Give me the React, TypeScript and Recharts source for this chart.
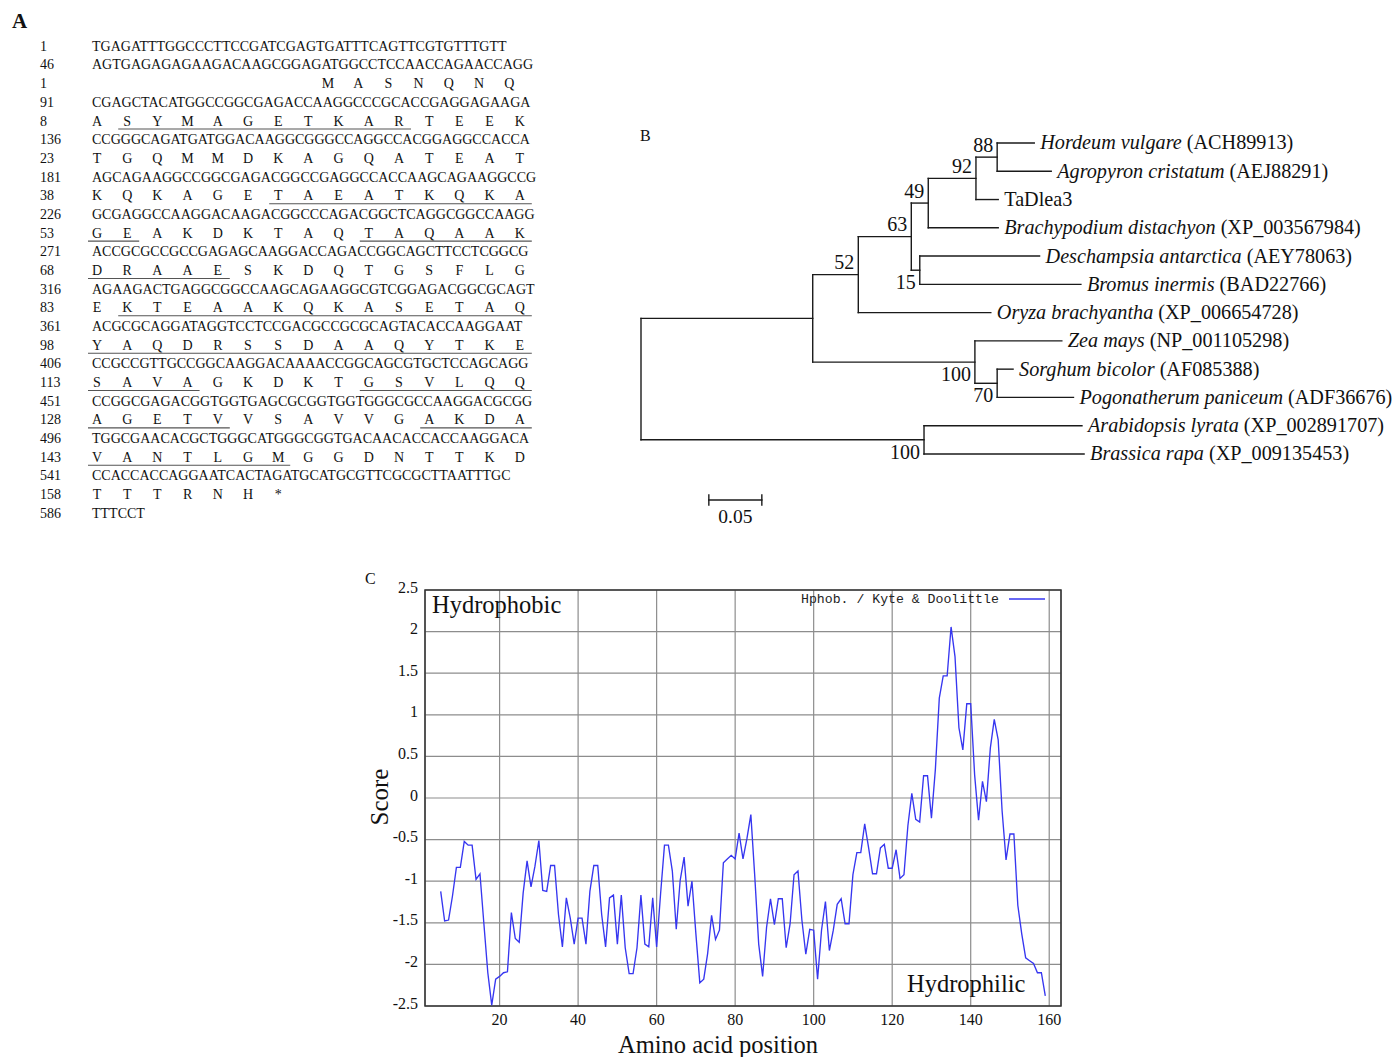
import React from "react";
import {
  CartesianGrid,
  Line,
  LineChart,
  ReferenceArea,
  ReferenceLine,
  Scatter,
  ScatterChart,
  XAxis,
  YAxis,
} from "recharts";

const SERIF = '"Liberation Serif", "Times New Roman", serif';
const MONO = '"Liberation Mono", "DejaVu Sans Mono", monospace';

// ---- panel A: cDNA and deduced protein ----
const dnaStarts = [1, 46, 91, 136, 181, 226, 271, 316, 361, 406, 451, 496, 541, 586];
const dnaLines = [
  "TGAGATTTGGCCCTTCCGATCGAGTGATTTCAGTTCGTGTTTGTT",
  "AGTGAGAGAGAAGACAAGCGGAGATGGCCTCCAACCAGAACCAGG",
  "CGAGCTACATGGCCGGCGAGACCAAGGCCCGCACCGAGGAGAAGA",
  "CCGGGCAGATGATGGACAAGGCGGGCCAGGCCACGGAGGCCACCA",
  "AGCAGAAGGCCGGCGAGACGGCCGAGGCCACCAAGCAGAAGGCCG",
  "GCGAGGCCAAGGACAAGACGGCCCAGACGGCTCAGGCGGCCAAGG",
  "ACCGCGCCGCCGAGAGCAAGGACCAGACCGGCAGCTTCCTCGGCG",
  "AGAAGACTGAGGCGGCCAAGCAGAAGGCGTCGGAGACGGCGCAGT",
  "ACGCGCAGGATAGGTCCTCCGACGCCGCGCAGTACACCAAGGAAT",
  "CCGCCGTTGCCGGCAAGGACAAAACCGGCAGCGTGCTCCAGCAGG",
  "CCGGCGAGACGGTGGTGAGCGCGGTGGTGGGCGCCAAGGACGCGG",
  "TGGCGAACACGCTGGGCATGGGCGGTGACAACACCACCAAGGACA",
  "CCACCACCAGGAATCACTAGATGCATGCGTTCGCGCTTAATTTGC",
  "TTTCCT",
];
const aaStarts = [1, 8, 23, 38, 53, 68, 83, 98, 113, 128, 143, 158];
const aaLines = [
  "MASNQNQ",
  "ASYMAGETKARTEEK",
  "TGQMMDKAGQATEAT",
  "KQKAGETAEATKQKA",
  "GEAKDKTAQTAQAAK",
  "DRAAESKDQTGSFLG",
  "EKTEAAKQKASETAQ",
  "YAQDRSSDAAQYTKE",
  "SAVAGKDKTGSVLQQ",
  "AGETVVSAVVGAKDA",
  "VANTLGMGGDNTTKD",
  "TTTRNH*",
];
// underlined stretches: [protein line, first letter, last letter]
const motifRuns = [
  [1, 1, 10], [3, 6, 14], [4, 0, 1], [4, 9, 14], [5, 0, 4], [6, 1, 14],
  [7, 0, 14], [8, 0, 3], [8, 9, 14], [9, 0, 4], [9, 11, 14], [10, 0, 6],
];

// ---- panel B: neighbour-joining tree ----
const taxa = [
  "Hordeum vulgare", "Agropyron cristatum", "TaDlea3", "Brachypodium distachyon",
  "Deschampsia antarctica", "Bromus inermis", "Oryza brachyantha", "Zea mays",
  "Sorghum bicolor", "Pogonatherum paniceum", "Arabidopsis lyrata", "Brassica rapa",
];
const accessions = [
  "ACH89913", "AEJ88291", "", "XP_003567984", "AEY78063", "BAD22766",
  "XP_006654728", "NP_001105298", "AF085388", "ADF36676", "XP_002891707", "XP_009135453",
];
const leafDepth = [0.371, 0.387, 0.337, 0.337, 0.376, 0.415, 0.330, 0.397, 0.351, 0.408, 0.416, 0.418];
const leafParent = ["n88", "n88", "n92", "n49", "n15", "n15", "n52", "nZm", "n70", "n70", "nBr", "nBr"];
const cladeIds = ["n88", "n92", "n49", "n15", "n63", "n52", "n70", "nZm", "nGr", "nBr", "root"];
const cladeDepth = [0.336, 0.316, 0.271, 0.263, 0.255, 0.205, 0.336, 0.315, 0.162, 0.267, 0];
const cladeRow = [0.5, 1.25, 2.125, 4.5, 3.3125, 4.656, 8.5, 7.75, 6.203, 10.5, 8.352];
const cladeParent = ["n92", "n49", "n63", "n63", "n52", "nGr", "nZm", "nGr", "root", "root", ""];
const bootstrap = ["88", "92", "49", "15", "63", "52", "70", "100", "", "100", ""];
const bootstrapBelow = [false, false, false, true, false, false, true, true, false, true, false];
const scaleBar = [0.064, 0.114];
const scaleRow = 12.63;

// ---- panel C: Kyte & Doolittle hydropathy (window 9) ----
const kdFirstPos = 5;
const kdScores = [
  -1.122, -1.478, -1.467, -1.178, -0.833, -0.833, -0.522, -0.567, -0.567, -0.978,
  -0.911, -1.511, -2.1, -2.489, -2.178, -2.144, -2.1, -2.089, -1.378, -1.689,
  -1.733, -1.144, -0.756, -1.067, -0.822, -0.511, -1.111, -1.122, -0.811, -0.811,
  -1.4, -1.789, -1.2, -1.444, -1.756, -1.444, -1.444, -1.756, -1.122, -0.811,
  -0.811, -1.4, -1.789, -1.2, -1.167, -1.756, -1.167, -1.8, -2.111, -2.111,
  -1.8, -1.167, -1.756, -1.789, -1.2, -1.789, -1.156, -0.567, -0.567, -0.878,
  -1.578, -0.989, -0.711, -1.3, -1.0, -1.633, -2.222, -2.178, -1.867, -1.411,
  -1.7, -1.589, -0.778, -0.733, -0.689, -0.733, -0.422, -0.733, -0.489, -0.2,
  -0.944, -1.756, -2.144, -1.556, -1.211, -1.522, -1.211, -1.211, -1.8, -1.511,
  -0.922, -0.878, -1.467, -1.878, -1.578, -1.589, -2.178, -1.589, -1.244, -1.833,
  -1.589, -1.278, -1.211, -1.511, -1.511, -0.922, -0.656, -0.656, -0.311, -0.6,
  -0.911, -0.911, -0.6, -0.556, -0.844, -0.844, -0.622, -0.967, -0.922, -0.333,
  0.056, -0.256, -0.289, 0.267, 0.267, -0.244, 0.344, 1.2, 1.467, 1.467,
  2.056, 1.7, 0.844, 0.578, 1.133, 1.133, 0.278, -0.267, 0.2, -0.044,
  0.6, 0.944, 0.7, -0.156, -0.744, -0.433, -0.433, -1.289, -1.633, -1.922,
  -1.956, -1.989, -2.1, -2.1, -2.378,
];
const posTicks = [20, 40, 60, 80, 100, 120, 140, 160];
const scoreTicks = [-2.5, -2, -1.5, -1, -0.5, 0, 0.5, 1, 1.5, 2, 2.5];

const hydroData = kdScores.map((score, i) => ({ pos: kdFirstPos + i, score }));

function rowY(r: number) {
  return 46 + 18.68 * r + 4.8;
}
function slotX(i: number) {
  return 97 + 30.2 * i;
}

function SequencePanel() {
  return (
    <svg width={560} height={540} style={{ position: "absolute", left: 0, top: 0 }}>
      <text x={12} y={28} fontFamily={SERIF} fontSize={21} fontWeight="bold" fill="#111">A</text>
      {dnaLines.map((seq, j) => {
        const row = j < 2 ? j : 2 * j - 1;
        return (
          <g key={"d" + j} fontFamily={SERIF} fontSize={14} fill="#111">
            <text x={40} y={rowY(row)}>{dnaStarts[j]}</text>
            <text x={92} y={rowY(row)}>{seq}</text>
          </g>
        );
      })}
      {aaLines.map((seq, k) => {
        const row = 2 + 2 * k;
        const off = k === 0 ? 7.65 : 0;
        return (
          <g key={"p" + k} fontFamily={SERIF} fontSize={14} fill="#111">
            <text x={40} y={rowY(row)}>{aaStarts[k]}</text>
            {seq.split("").map((c, i) => (
              <text key={i} x={slotX(i + off)} y={rowY(row)} textAnchor="middle">{c}</text>
            ))}
          </g>
        );
      })}
      {motifRuns.map(([k, a, b], i) => {
        const y = rowY(2 + 2 * k) + 3.5;
        return <line key={"u" + i} x1={slotX(a) - 9} x2={slotX(b) + 12} y1={y} y2={y} stroke="#555" strokeWidth={1.1} />;
      })}
    </svg>
  );
}

function LeafLabel(p: any) {
  const d = p.payload;
  return (
    <text x={p.cx + 6} y={p.cy + 6.5} fontFamily={SERIF} fontSize={20.2} fill="#111">
      {d.acc ? <tspan fontStyle="italic">{d.name}</tspan> : d.name}
      {d.acc ? ` (${d.acc})` : ""}
    </text>
  );
}

function BootLabel(p: any) {
  const d = p.payload;
  return (
    <text x={p.cx - 4} y={d.below ? p.cy + 19 : p.cy - 5.5} textAnchor="end" fontFamily={SERIF} fontSize={20} fill="#111">
      {d.value}
    </text>
  );
}

function ScaleLabel(p: any) {
  return (
    <text x={p.cx} y={p.cy + 23} textAnchor="middle" fontFamily={SERIF} fontSize={19.5} fill="#111">
      0.05
    </text>
  );
}

function TreeChart() {
  const depthOf = (id: string) => cladeDepth[cladeIds.indexOf(id)];
  const segs: { x1: number; y1: number; x2: number; y2: number }[] = [];
  taxa.forEach((_, i) => segs.push({ x1: depthOf(leafParent[i]), y1: i, x2: leafDepth[i], y2: i }));
  cladeIds.forEach((id, c) => {
    if (cladeParent[c]) segs.push({ x1: depthOf(cladeParent[c]), y1: cladeRow[c], x2: cladeDepth[c], y2: cladeRow[c] });
    const rows = [
      ...taxa.map((_, i) => i).filter((i) => leafParent[i] === id),
      ...cladeIds.map((_, k) => k).filter((k) => cladeParent[k] === id).map((k) => cladeRow[k]),
    ];
    segs.push({ x1: cladeDepth[c], y1: Math.min(...rows), x2: cladeDepth[c], y2: Math.max(...rows) });
  });
  segs.push({ x1: scaleBar[0], y1: scaleRow, x2: scaleBar[1], y2: scaleRow });
  scaleBar.forEach((x) => segs.push({ x1: x, y1: scaleRow - 0.18, x2: x, y2: scaleRow + 0.18 }));

  const leafData = taxa.map((name, i) => ({ x: leafDepth[i], y: i, name, acc: accessions[i] }));
  const bootData = cladeIds
    .map((_, c) => ({ x: cladeDepth[c], y: cladeRow[c], value: bootstrap[c], below: bootstrapBelow[c] }))
    .filter((d) => d.value);
  const scaleData = [{ x: (scaleBar[0] + scaleBar[1]) / 2, y: scaleRow }];

  return (
    <ScatterChart width={762} height={410} margin={{ top: 0, right: 0, bottom: 0, left: 0 }}>
      <XAxis type="number" dataKey="x" domain={[-0.010377, 0.70849]} allowDataOverflow hide />
      <YAxis type="number" dataKey="y" domain={[-0.8136, 13.69]} allowDataOverflow reversed hide />
      {segs.map((s, i) => (
        <ReferenceLine
          key={i}
          segment={[{ x: s.x1, y: s.y1 }, { x: s.x2, y: s.y2 }]}
          stroke="#1a1a1a"
          strokeWidth={1.4}
          strokeLinecap="square"
          ifOverflow="visible"
        />
      ))}
      <Scatter data={leafData} shape={LeafLabel} isAnimationActive={false} />
      <Scatter data={bootData} shape={BootLabel} isAnimationActive={false} />
      <Scatter data={scaleData} shape={ScaleLabel} isAnimationActive={false} />
    </ScatterChart>
  );
}

function HydropathyChart() {
  const tickStyle = { fontSize: 16, fontFamily: SERIF, fill: "#111" };
  return (
    <LineChart width={740} height={497} data={hydroData} margin={{ top: 30, right: 19, bottom: 0, left: 0 }}>
      <CartesianGrid stroke="#8d8d8d" strokeWidth={1.2} />
      <XAxis
        type="number"
        dataKey="pos"
        domain={[1, 163]}
        ticks={posTicks}
        interval={0}
        allowDataOverflow
        axisLine={false}
        tickLine={false}
        tickSize={0}
        tickMargin={8}
        height={51}
        tick={tickStyle}
      />
      <YAxis
        type="number"
        domain={[-2.5, 2.5]}
        ticks={scoreTicks}
        interval={0}
        allowDataOverflow
        axisLine={false}
        tickLine={false}
        tickSize={0}
        tickMargin={7}
        width={85}
        tick={{ ...tickStyle, dy: -3 }}
      />
      <ReferenceArea x1={1} x2={163} y1={-2.5} y2={2.5} fill="none" fillOpacity={0} stroke="#333" strokeWidth={1.5} ifOverflow="visible" />
      <Line type="linear" dataKey="score" stroke="#3636f0" strokeWidth={1.35} dot={false} isAnimationActive={false} />
    </LineChart>
  );
}

export default function App() {
  return (
    <div style={{ position: "absolute", left: 0, top: 0, width: 1392, height: 1057, background: "#fff", overflow: "hidden" }}>
      <SequencePanel />
      <div style={{ position: "absolute", left: 630, top: 120 }}>
        <TreeChart />
      </div>
      <div style={{ position: "absolute", left: 340, top: 560 }}>
        <HydropathyChart />
      </div>
      <svg width={1392} height={1057} style={{ position: "absolute", left: 0, top: 0, pointerEvents: "none" }}>
        <g fontFamily={SERIF} fill="#111">
          <text x={640} y={141} fontSize={16}>B</text>
          <text x={365} y={584} fontSize={16}>C</text>
          <text x={432} y={613} fontSize={24.5}>Hydrophobic</text>
          <text x={907} y={992} fontSize={24.5}>Hydrophilic</text>
          <text x={388} y={797} fontSize={25} textAnchor="middle" transform="rotate(-90 388 797)">Score</text>
          <text x={718} y={1053} fontSize={24.5} textAnchor="middle">Amino acid position</text>
        </g>
        <text x={801} y={603} fontFamily={MONO} fontSize={13.2} fill="#222">Hphob. / Kyte &amp; Doolittle</text>
        <line x1={1009} x2={1045} y1={599} y2={599} stroke="#3636f0" strokeWidth={1.3} />
      </svg>
    </div>
  );
}
